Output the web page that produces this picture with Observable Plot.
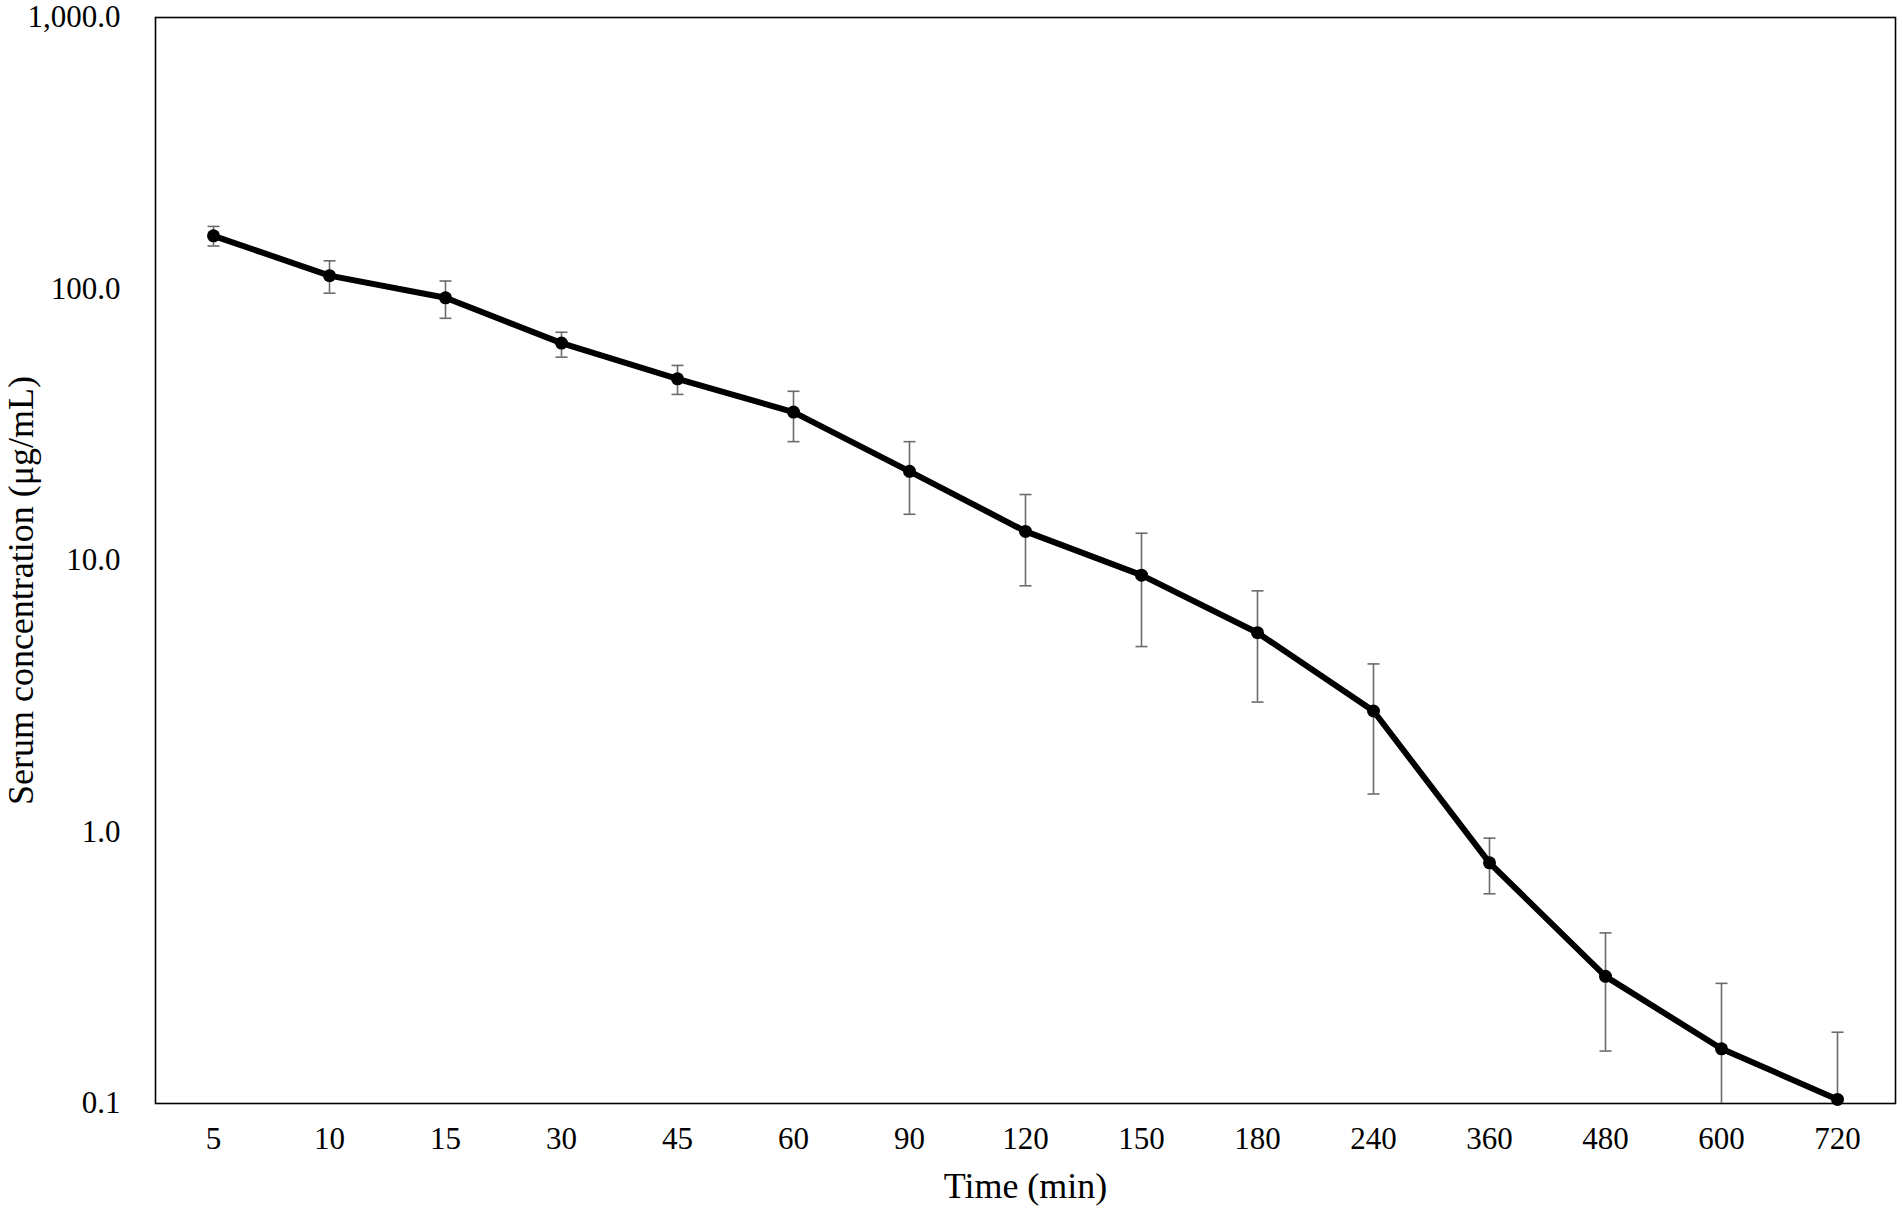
<!DOCTYPE html>
<html>
<head>
<meta charset="utf-8">
<script src="https://cdn.jsdelivr.net/npm/d3@7"></script>
<script src="https://cdn.jsdelivr.net/npm/@observablehq/plot@0.6"></script>
<style>
  html, body { margin: 0; padding: 0; background: #fff; }
  #chart svg { display: block; }
</style>
</head>
<body>
<div id="chart"></div>
<script>
// Time points (min), treated as evenly spaced categories
const times = ["5","10","15","30","45","60","90","120","150","180","240","360","480","600","720"];
// Mean serum concentration (µg/mL)
const means = [157, 112, 92.8, 63.2, 46.7, 35.2, 21.3, 12.8, 8.83, 5.42, 2.79, 0.77, 0.294, 0.159, 0.1035];
// Upper / lower error-bar ends (µg/mL)
const upper = [170, 127, 107, 69.3, 52.3, 42.0, 27.4, 17.5, 12.6, 7.73, 4.16, 0.949, 0.425, 0.277, 0.183];
const lower = [144, 96.5, 78, 56.1, 40.9, 27.4, 14.8, 8.07, 4.82, 3.01, 1.38, 0.592, 0.156, 0.041, 0.024];
// Y tick values
const yTicks = [0.1, 1, 10, 100, 1000];
const yTitle = "Serum concentration (μg/mL)";
const xTitle = "Time (min)";

const data = times.map((t, i) => ({time: t, mean: means[i], hi: upper[i], lo: lower[i]}));

// horizontal cap symbol for error bars
const capSymbol = {
  draw(context, size) {
    const w = 6;
    context.moveTo(-w, 0);
    context.lineTo(w, 0);
  }
};

const chart = Plot.plot({
  width: 1902,
  height: 1210,
  marginLeft: 155,
  marginRight: 7,
  marginTop: 17,
  marginBottom: 107,
  style: {fontFamily: "'Liberation Serif', 'Times New Roman', serif", fontSize: "31px", color: "#000", background: "#fff"},
  x: {type: "point", domain: times, padding: 0.5},
  y: {type: "log", domain: [0.1, 1000]},
  marks: [
    Plot.frame({stroke: "#000", strokeWidth: 1.6}),
    Plot.ruleX(data, {x: "time", y1: "lo", y2: "hi", stroke: "#6b6b6b", strokeWidth: 1.6, clip: true}),
    Plot.dot(data, {x: "time", y: "hi", symbol: capSymbol, stroke: "#6b6b6b", strokeWidth: 1.6, fill: "none", clip: true}),
    Plot.dot(data, {x: "time", y: "lo", symbol: capSymbol, stroke: "#6b6b6b", strokeWidth: 1.6, fill: "none", clip: true}),
    Plot.line(data, {x: "time", y: "mean", stroke: "#000", strokeWidth: 6, strokeLinejoin: "round"}),
    Plot.dot(data, {x: "time", y: "mean", r: 6.5, fill: "#000", stroke: "none"}),
    Plot.axisY({ticks: yTicks, tickFormat: d3.format(",.1f"), tickSize: 0, tickPadding: 35, label: null, fontSize: 31}),
    Plot.text([yTitle], {frameAnchor: "left", rotate: -90, dx: -148, dy: 30, lineAnchor: "top", textAnchor: "middle", fontSize: 36, fill: "#000"}),
    Plot.axisX({tickSize: 0, tickPadding: 23, label: null, fontSize: 31}),
    Plot.axisX({ticks: [], label: xTitle, labelAnchor: "center", labelOffset: 94, labelArrow: "none", fontSize: 36})
  ]
});
document.getElementById("chart").appendChild(chart);
</script>
</body>
</html>
